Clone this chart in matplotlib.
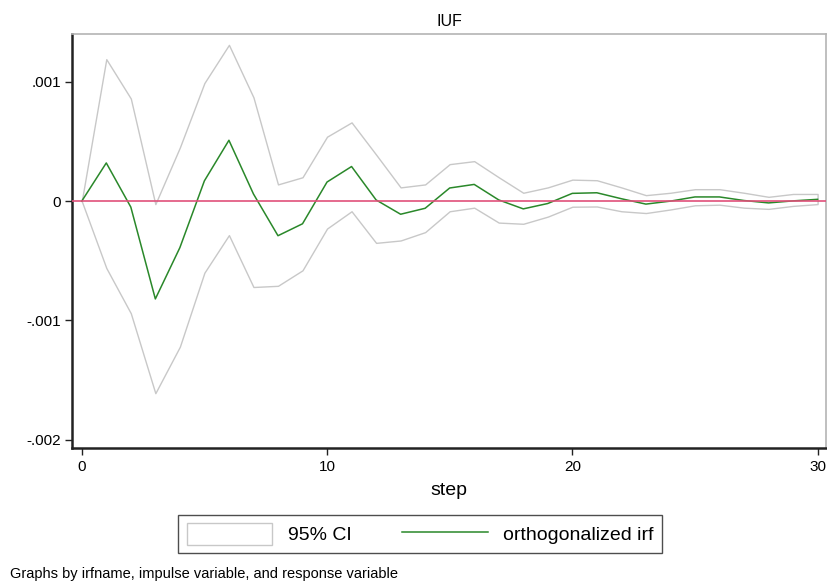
import matplotlib
matplotlib.use("Agg")
import matplotlib.pyplot as plt
import numpy as np

plt.rcParams['font.family'] = ['Liberation Sans Narrow', 'Liberation Sans', 'DejaVu Sans']

# impulse response of IUF, steps 0..30
step = list(range(31))
irf = [0.0, 0.32, -0.05, -0.82, -0.39, 0.17, 0.51, 0.06, -0.29, -0.19, 0.16,
       0.29, 0.01, -0.11, -0.06, 0.11, 0.14, 0.01, -0.065, -0.02, 0.065,
       0.07, 0.02, -0.025, 0.0, 0.035, 0.035, 0.005, -0.015, 0.002, 0.015]
ci_upper = [0.0, 1.19, 0.86, -0.025, 0.45, 0.99, 1.31, 0.87, 0.14, 0.20, 0.54,
            0.66, 0.39, 0.115, 0.14, 0.31, 0.335, 0.20, 0.07, 0.115, 0.18,
            0.175, 0.115, 0.05, 0.07, 0.10, 0.10, 0.07, 0.036, 0.06, 0.06]
ci_lower = [0.0, -0.56, -0.94, -1.61, -1.22, -0.60, -0.285, -0.72, -0.71, -0.58, -0.23,
            -0.085, -0.35, -0.33, -0.26, -0.085, -0.055, -0.18, -0.19, -0.13, -0.047,
            -0.045, -0.085, -0.10, -0.07, -0.035, -0.03, -0.055, -0.065, -0.04, -0.025]
scale = 1e-3
irf = np.array(irf) * scale
ci_upper = np.array(ci_upper) * scale
ci_lower = np.array(ci_lower) * scale

yticks = [0.001, 0, -0.001, -0.002]
ytick_labels = ['.001', '0', '-.001', '-.002']
xticks = [0, 10, 20, 30]

fig = plt.figure(figsize=(8.27, 5.88), dpi=100)
ax = fig.add_axes([0.087, 0.238, 0.912, 0.704])

ci = ax.fill_between(step, ci_lower, ci_upper, facecolor='white',
                     edgecolor='#c8c8c8', linewidth=1.0, label='95% CI')
line, = ax.plot(step, irf, color='#2a882a', linewidth=1.1, label='orthogonalized irf')
ax.axhline(0, color='#e0507a', linewidth=1.2, zorder=3)

ax.set_xlim(-0.4, 30.35)
ax.set_ylim(-0.00207, 0.0014)
ax.set_yticks(yticks)
ax.set_yticklabels(ytick_labels)
ax.set_xticks(xticks)
ax.tick_params(axis='both', direction='out', length=5, width=1, labelsize=11, color='#222222')
ax.tick_params(axis='y', pad=3)

for s in ['top', 'right']:
    ax.spines[s].set_color('#b4b4b4')
    ax.spines[s].set_linewidth(1.2)
for s in ['left', 'bottom']:
    ax.spines[s].set_color('#222222')
    ax.spines[s].set_linewidth(1.8)

ax.set_title('IUF', fontsize=11.5, pad=6)
ax.set_xlabel('step', fontsize=14, labelpad=6)

leg = fig.legend(handles=[ci, line], labels=['95% CI', 'orthogonalized irf'],
                 loc='center', bbox_to_anchor=(0.508, 0.092), ncol=2, fontsize=14,
                 frameon=True, fancybox=False, edgecolor='#222222',
                 handlelength=4.4, handleheight=1.3, columnspacing=2.6,
                 borderpad=0.45, borderaxespad=0.4)
leg.get_frame().set_linewidth(1.0)

fig.text(0.012, 0.024, 'Graphs by irfname, impulse variable, and response variable',
         fontsize=10.5, ha='left', va='center')

fig.savefig('out.png', dpi=100, facecolor='white')
